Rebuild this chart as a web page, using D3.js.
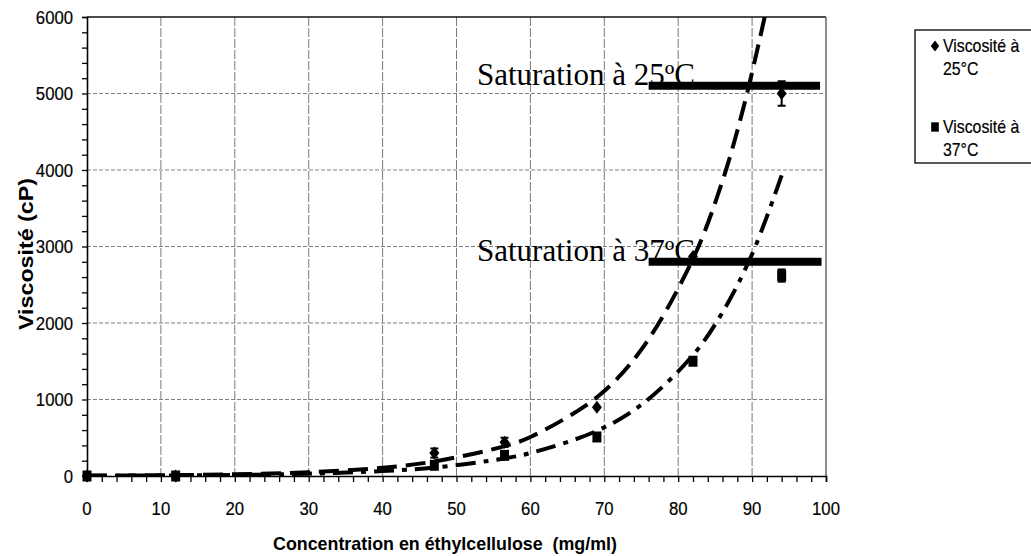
<!DOCTYPE html>
<html>
<head>
<meta charset="utf-8">
<script src="https://cdn.jsdelivr.net/npm/d3@7"></script>
<style>
  body { margin: 0; background: #fff; }
  svg { display: block; }
  text { font-family: "Liberation Sans", Arial, sans-serif; }
  .serif { font-family: "Liberation Serif", "Times New Roman", serif; }
  .heavy { stroke: #000; stroke-width: 0.2px; }
</style>
</head>
<body>
<svg id="chart" width="1031" height="556"></svg>
<script>
// Measured viscosity vs. ethylcellulose concentration
const concentrations = [0, 12, 47, 56.5, 69, 82, 94];
const visc25 = [0, 0, 300, 440, 900, 2870, 5000];
const err25  = [0, 0, 60, 60, 0, 0, 160];
const visc37 = [0, 0, 140, 270, 510, 1500, 2620];
const err37  = [0, 0, 0, 0, 0, 0, 80];

// Exponential trend curves, read along their path
const trendX25 = [0, 10, 20, 30, 40, 47, 56.5, 60, 69, 75, 82, 86, 89, 91.7];
const trendY25 = [5, 10, 23, 50, 108, 190, 390, 510, 1030, 1650, 2840, 3860, 4880, 6000];
const trendX37 = [0, 10, 20, 30, 40, 47, 56.5, 60, 69, 75, 82, 86, 90, 94];
const trendY37 = [3, 7, 14, 30, 65, 110, 230, 300, 590, 930, 1580, 2140, 2900, 3930];

// Saturation levels
const satLabels = ["Saturation à 25ºC", "Saturation à 37ºC"];
const satValues = [5100, 2800];
const satFrom = [76, 76];
const satTo = [99.2, 99.4];

// Axes
const xTicks = [0, 10, 20, 30, 40, 50, 60, 70, 80, 90, 100];
const xMinorTicks = d3.range(0, 101, 2);
const yTicks = [0, 1000, 2000, 3000, 4000, 5000, 6000];
const yMinorTicks = d3.range(0, 6001, 200);
const xTitle = "Concentration en éthylcellulose  (mg/ml)";
const yTitle = "Viscosité (cP)";
const legendLabels = [["Viscosité à", "25°C"], ["Viscosité à", "37°C"]];

const svg = d3.select("#chart");
const x = d3.scaleLinear().domain([0, 100]).range([87, 826]);
const y = d3.scaleLinear().domain([0, 6000]).range([476, 17]);
const narrow = 0.88; // horizontal squeeze for the condensed labels

svg.append("rect").attr("width", 1031).attr("height", 556).attr("fill", "#fff");

// Grid
svg.append("g").selectAll("line").data(xTicks.slice(1, -1)).join("line")
  .attr("x1", d => x(d)).attr("x2", d => x(d))
  .attr("y1", y(6000)).attr("y2", y(0))
  .attr("stroke", "#7a7a7a").attr("stroke-width", 1).attr("stroke-dasharray", "9,2");
svg.append("g").selectAll("line").data(yTicks.slice(1, -1)).join("line")
  .attr("x1", x(0)).attr("x2", x(100))
  .attr("y1", d => y(d)).attr("y2", d => y(d))
  .attr("stroke", "#808080").attr("stroke-width", 1).attr("stroke-dasharray", "4,2");

// Frame: top and right
svg.append("line").attr("x1", x(0)).attr("x2", x(100)).attr("y1", y(6000)).attr("y2", y(6000))
  .attr("stroke", "#111").attr("stroke-width", 1.5);
svg.append("line").attr("x1", x(100)).attr("x2", x(100)).attr("y1", y(6000)).attr("y2", y(0))
  .attr("stroke", "#666").attr("stroke-width", 1.5);

// Clip for curves
svg.append("clipPath").attr("id", "plot").append("rect")
  .attr("x", x(0)).attr("y", y(6000)).attr("width", x(100) - x(0)).attr("height", y(0) - y(6000));

const line = d3.line().x(d => x(d[0])).y(d => y(d[1])).curve(d3.curveCatmullRom);
const plot = svg.append("g").attr("clip-path", "url(#plot)");
plot.append("path").datum(d3.zip(trendX25, trendY25)).attr("d", line)
  .attr("fill", "none").attr("stroke", "#000").attr("stroke-width", 4)
  .attr("stroke-dasharray", "20,9");
plot.append("path").datum(d3.zip(trendX37, trendY37)).attr("d", line)
  .attr("fill", "none").attr("stroke", "#000").attr("stroke-width", 4)
  .attr("stroke-dasharray", "20,8,5,8");

// Error bars
function errorBars(vals, errs) {
  const g = svg.append("g").attr("stroke", "#000").attr("stroke-width", 2);
  concentrations.forEach((c, i) => {
    if (!errs[i]) return;
    const cx = x(c), top = y(vals[i] + errs[i]), bot = y(vals[i] - errs[i]);
    g.append("line").attr("x1", cx).attr("x2", cx).attr("y1", top).attr("y2", bot);
    g.append("line").attr("x1", cx - 4).attr("x2", cx + 4).attr("y1", top).attr("y2", top);
    g.append("line").attr("x1", cx - 4).attr("x2", cx + 4).attr("y1", bot).attr("y2", bot);
  });
}
errorBars(visc25, err25);
errorBars(visc37, err37);

// Markers
const diamond = "M0,-6.5L5,0L0,6.5L-5,0Z";
const square = "M-4.5,-5.5H4.5V5.5H-4.5Z";
svg.append("g").selectAll("path").data(d3.zip(concentrations, visc37)).join("path")
  .attr("d", square).attr("transform", d => `translate(${x(d[0])},${y(d[1])})`).attr("fill", "#000");
svg.append("g").selectAll("path").data(d3.zip(concentrations, visc25)).join("path")
  .attr("d", diamond).attr("transform", d => `translate(${x(d[0])},${y(d[1])})`).attr("fill", "#000");

// Saturation annotations
satValues.forEach((v, i) => {
  svg.append("text").attr("class", "serif").attr("x", 477).attr("y", y(v) - 1)
    .attr("font-size", 31).attr("fill", "#000").text(satLabels[i]);
  svg.append("line").attr("x1", x(satFrom[i])).attr("x2", x(satTo[i]))
    .attr("y1", y(v)).attr("y2", y(v)).attr("stroke", "#000").attr("stroke-width", 8);
});

// Axes (lines and ticks from d3 axes, labels placed with a horizontal squeeze)
const gx = svg.append("g").attr("transform", `translate(0,${y(0)})`);
gx.call(d3.axisBottom(x).tickValues(xMinorTicks).tickSize(6).tickFormat(""));
gx.selectAll(".tick line").attr("stroke", "#000").attr("stroke-width", 1.3);
gx.select(".domain").attr("stroke", "#000").attr("stroke-width", 1.6);

const gy = svg.append("g").attr("transform", `translate(${x(0)},0)`);
gy.call(d3.axisLeft(y).tickValues(yMinorTicks).tickSize(5).tickFormat(""));
gy.selectAll(".tick line").attr("stroke", "#000").attr("stroke-width", 1.3);
gy.select(".domain").attr("stroke", "#000").attr("stroke-width", 1.6);

svg.append("g").selectAll("text").data(xTicks).join("text")
  .attr("class", "heavy")
  .attr("transform", d => `translate(${x(d)},515) scale(${narrow},1)`)
  .attr("text-anchor", "middle").attr("font-size", 19).attr("fill", "#000")
  .text(d3.format("d"));
svg.append("g").selectAll("text").data(yTicks).join("text")
  .attr("class", "heavy")
  .attr("transform", d => `translate(73,${y(d)}) scale(${narrow},1)`)
  .attr("text-anchor", "end").attr("dy", "0.36em").attr("font-size", 19).attr("fill", "#000")
  .text(d3.format("d"));

// Axis titles
svg.append("text").attr("x", 273).attr("y", 550)
  .attr("font-size", 19).attr("font-weight", "bold").attr("fill", "#000")
  .attr("textLength", 344).attr("lengthAdjust", "spacingAndGlyphs")
  .style("white-space", "pre").text(xTitle);
svg.append("text")
  .attr("transform", "translate(33,330) rotate(-90)")
  .attr("font-size", 20).attr("font-weight", "bold").attr("fill", "#000")
  .attr("textLength", 152).attr("lengthAdjust", "spacingAndGlyphs")
  .text(yTitle);

// Legend
const lg = svg.append("g");
lg.append("rect").attr("x", 915).attr("y", 30).attr("width", 140).attr("height", 133)
  .attr("fill", "#fff").attr("stroke", "#000").attr("stroke-width", 1.3);
const legendSymbols = [diamond, square];
const legendY = [46, 127];
legendLabels.forEach((lines, i) => {
  lg.append("path").attr("d", legendSymbols[i])
    .attr("transform", `translate(935,${legendY[i]}) scale(0.85)`).attr("fill", "#000");
  lines.forEach((t, j) => {
    lg.append("text").attr("class", "heavy")
      .attr("transform", `translate(943,${legendY[i] + j * 23}) scale(${narrow},1)`)
      .attr("dy", "0.36em").attr("font-size", 18).attr("fill", "#000").text(t);
  });
});
</script>
</body>
</html>
